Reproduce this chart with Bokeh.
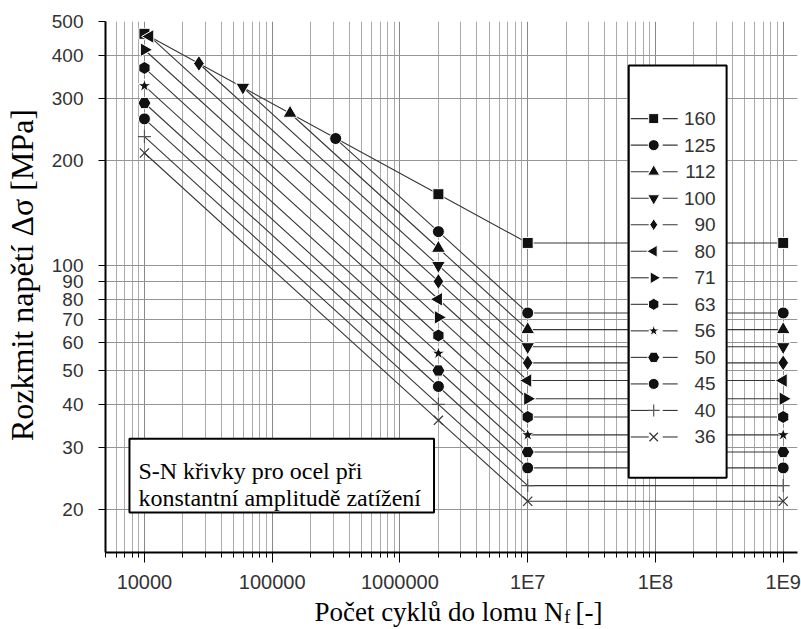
import math
from bokeh.plotting import figure
from bokeh.layouts import column
from bokeh.models import (FixedTicker, Range1d, LinearScale, ColumnDataSource, CustomJSTickFormatter)
from bokeh.core.properties import value
from bokeh.embed import file_html
from bokeh.resources import INLINE

# ---------------- data ----------------
categories = ["160", "125", "112", "100", "90", "80", "71", "63", "56", "50", "45", "40", "36"]
# first point of every curve (cycles, stress range)
start_cycles = [10000, 314000, 138000, 59000, 26700, 11000, 10000, 10000, 10000, 10000, 10000, 10000, 10000]
start_stress = [461, 231, 273, 324, 379, 453, 415, 368, 327, 292, 263, 234, 210]
# knee points
knee_cycles = [2000000, 10000000, 1000000000]
stress_2e6 = [160, 125, 112, 100, 90, 80, 71, 63, 56, 50, 45, 40, 36]
stress_1e7 = [116, 73.1, 65.5, 58.5, 52.6, 46.8, 41.5, 36.8, 32.7, 29.2, 26.3, 23.4, 21.1]
stress_1e9 = [116, 73.1, 65.5, 58.5, 52.6, 46.8, 41.5, 36.8, 32.7, 29.2, 26.3, 23.4, 21.1]

x_ticks = [1e4, 1e5, 1e6, 1e7, 1e8, 1e9]
x_tick_labels = ["10000", "100000", "1000000", "1E7", "1E8", "1E9"]
y_ticks = [20, 30, 40, 50, 60, 70, 80, 90, 100, 200, 300, 400, 500]
y_tick_labels = ["20", "30", "40", "50", "60", "70", "80", "90", "100", "200", "300", "400", "500"]

x_minor = [m * 10 ** e for e in range(3, 9) for m in range(2, 10) if 4957 <= m * 10 ** e <= 1.29e9]

note_lines = ["S-N křivky pro ocel při", "konstantní amplitudě zatížení"]
x_title = "Počet cyklů do lomu N"
x_title_sub = "f"
x_title_unit = "[-]"
y_title = "Rozkmit napětí Δσ [MPa]"

# ---------------- layout constants (pixels) ----------------
W, H_MAIN, H_XT = 801, 595, 34
ML, MR, MT, MB = 104, 4, 21, 42
FW = W - ML - MR          # frame width
FH = H_MAIN - MT - MB     # frame height

# ---------------- figure ----------------
p = figure(width=W, height=H_MAIN, x_axis_type="log", y_axis_type="log",
           x_range=(4957, 1.294e9), y_range=(15.05, 500), title=None,
           output_backend="svg", toolbar_location=None,
           min_border_left=ML, min_border_right=MR, min_border_top=MT, min_border_bottom=MB)
p.outline_line_color = None
p.background_fill_color = "white"
p.border_fill_color = "white"
# pixel coordinate system of the plot frame, for the legend and note boxes
p.extra_x_ranges = {"px": Range1d(0, FW)}
p.extra_y_ranges = {"px": Range1d(0, FH)}
p.extra_x_scales = {"px": LinearScale()}
p.extra_y_scales = {"px": LinearScale()}

FMT_CODE = """
const i = tvals.findIndex(t => Math.abs(t - tick) / t < 1e-6);
return i >= 0 ? tlabs[i] : '';
"""
p.xaxis.ticker = FixedTicker(ticks=x_ticks, minor_ticks=x_minor)
p.xaxis.formatter = CustomJSTickFormatter(args=dict(tvals=x_ticks, tlabs=x_tick_labels), code=FMT_CODE)
p.yaxis.ticker = FixedTicker(ticks=y_ticks, minor_ticks=[])
p.yaxis.formatter = CustomJSTickFormatter(args=dict(tvals=y_ticks, tlabs=y_tick_labels), code=FMT_CODE)

for ax in (p.xaxis, p.yaxis):
    ax.axis_line_color = "black"
    ax.axis_line_width = 2
    ax.major_tick_line_color = "black"
    ax.minor_tick_line_color = "black"
    ax.major_label_text_font = "Liberation Sans"
    ax.major_label_text_color = "#333333"

p.xaxis.major_tick_out = 10
p.xaxis.major_tick_in = 0
p.xaxis.minor_tick_out = 5
p.xaxis.minor_tick_in = 0
p.xaxis.major_label_text_font_size = "20px"
p.xaxis.major_label_standoff = 8

p.yaxis.major_tick_out = 7
p.yaxis.major_tick_in = 0
p.yaxis.minor_tick_out = 0
p.yaxis.minor_tick_in = 0
p.yaxis.major_label_text_font_size = "19px"
p.yaxis.major_label_standoff = 15
# two leading no-break spaces lift the centred title slightly, as in the reference
p.yaxis.axis_label = "\u00a0\u00a0\u00a0" + y_title
p.yaxis.axis_label_text_font = "Liberation Serif"
p.yaxis.axis_label_text_font_style = "normal"
p.yaxis.axis_label_text_font_size = "32px"
p.yaxis.axis_label_text_color = "black"
p.yaxis.axis_label_standoff = 9

p.xgrid.grid_line_color = "#888888"
p.xgrid.minor_grid_line_color = "#ababab"
p.ygrid.grid_line_color = "#959595"

# ---------------- series ----------------
styles = [
    dict(marker="square", size=11, angle=0.0),
    dict(marker="circle", size=12, angle=0.0),
    dict(marker="triangle", size=14, angle=0.0),
    dict(marker="inverted_triangle", size=14, angle=0.0),
    dict(marker="diamond", size=16, angle=0.0),
    dict(marker="triangle", size=14, angle=math.pi / 2),
    dict(marker="triangle", size=14, angle=-math.pi / 2),
    dict(marker="hex", size=13, angle=math.pi / 6),
    dict(marker="star", size=14, angle=0.0),
    dict(marker="hex", size=13, angle=0.0),
    dict(marker="circle", size=12, angle=0.0),
    dict(marker="cross", size=13, angle=0.0),
    dict(marker="x", size=13, angle=0.0),
]


def draw_marker(fig, src, st, size, **kw):
    if st["marker"] in ("cross", "x"):
        return fig.scatter("x", "y", source=src, marker=st["marker"], size=size, angle=st["angle"],
                           line_color="#555555" if st["marker"] == "cross" else "#333333",
                           line_width=1.2, fill_color=None, **kw)
    return fig.scatter("x", "y", source=src, marker=st["marker"], size=size, angle=st["angle"],
                       fill_color="#111111", line_color="white", line_width=1, **kw)


sources = []
for i, cat in enumerate(categories):
    xs = [start_cycles[i]] + knee_cycles
    ys = [start_stress[i], stress_2e6[i], stress_1e7[i], stress_1e9[i]]
    src = ColumnDataSource(dict(x=xs, y=ys))
    p.line("x", "y", source=src, line_color="#363636", line_width=1.1)
    sources.append(src)

for i, cat in enumerate(categories):
    draw_marker(p, sources[i], styles[i], styles[i]["size"])

# ---------------- legend (drawn in frame pixels) ----------------
PX = dict(x_range_name="px", y_range_name="px")
LB_L, LB_R, LB_T, LB_B = 524, 622, 488, 75       # legend box, frame px
ROW0, PITCH = 434.7, 26.58                        # first row centre, row pitch
p.quad(left=[LB_L], right=[LB_R], top=[LB_T], bottom=[LB_B],
       fill_color="white", line_color="black", line_width=2, **PX)
row_y = [ROW0 - k * PITCH for k in range(len(categories))]
p.segment(x0=[526] * len(row_y), y0=row_y, x1=[544] * len(row_y), y1=row_y,
          line_color="#363636", line_width=1.1, **PX)
p.segment(x0=[558] * len(row_y), y0=row_y, x1=[573] * len(row_y), y1=row_y,
          line_color="#363636", line_width=1.1, **PX)
for i, cat in enumerate(categories):
    lsrc = ColumnDataSource(dict(x=[549], y=[row_y[i]]))
    draw_marker(p, lsrc, styles[i], min(styles[i]["size"], 13) - 1, **PX)
p.text(x=[611] * len(row_y), y=row_y, text=categories,
       text_align="right", text_baseline="middle",
       text_font=value("Liberation Sans"), text_font_size=value("19px"),
       text_color="#333333", **PX)

# ---------------- note box ----------------
p.quad(left=[24], right=[329], top=[114], bottom=[40],
       fill_color="white", line_color="black", line_width=2, **PX)
p.text(x=[33, 33], y=[82, 55], text=note_lines,
       text_align="left", text_baseline="alphabetic",
       text_font=value("Liberation Serif"), text_font_size=value("24px"),
       text_color="black", **PX)

# ---------------- x axis title (separate strip, with subscript) ----------------
p2 = figure(width=W, height=H_XT, x_range=(0, W), y_range=(0, H_XT), title=None,
            output_backend="svg", toolbar_location=None,
            x_axis_location=None, y_axis_location=None,
            min_border=0, min_border_left=0, min_border_right=0, min_border_top=0, min_border_bottom=0)
p2.outline_line_color = None
p2.background_fill_color = "white"
p2.border_fill_color = "white"
p2.xgrid.visible = False
p2.ygrid.visible = False
p2.text(x=[530], y=[18], text=[x_title], text_align="right", text_baseline="alphabetic",
        text_font=value("Liberation Serif"), text_font_size=value("27px"), text_color="black")
p2.text(x=[531], y=[13], text=[x_title_sub], text_align="left", text_baseline="alphabetic",
        text_font=value("Liberation Serif"), text_font_size=value("18px"), text_color="black")
p2.text(x=[544], y=[18], text=[x_title_unit], text_align="left", text_baseline="alphabetic",
        text_font=value("Liberation Serif"), text_font_size=value("27px"), text_color="black")

layout = column(p, p2, spacing=0)
open("out.html", "w").write(file_html(layout, INLINE))
